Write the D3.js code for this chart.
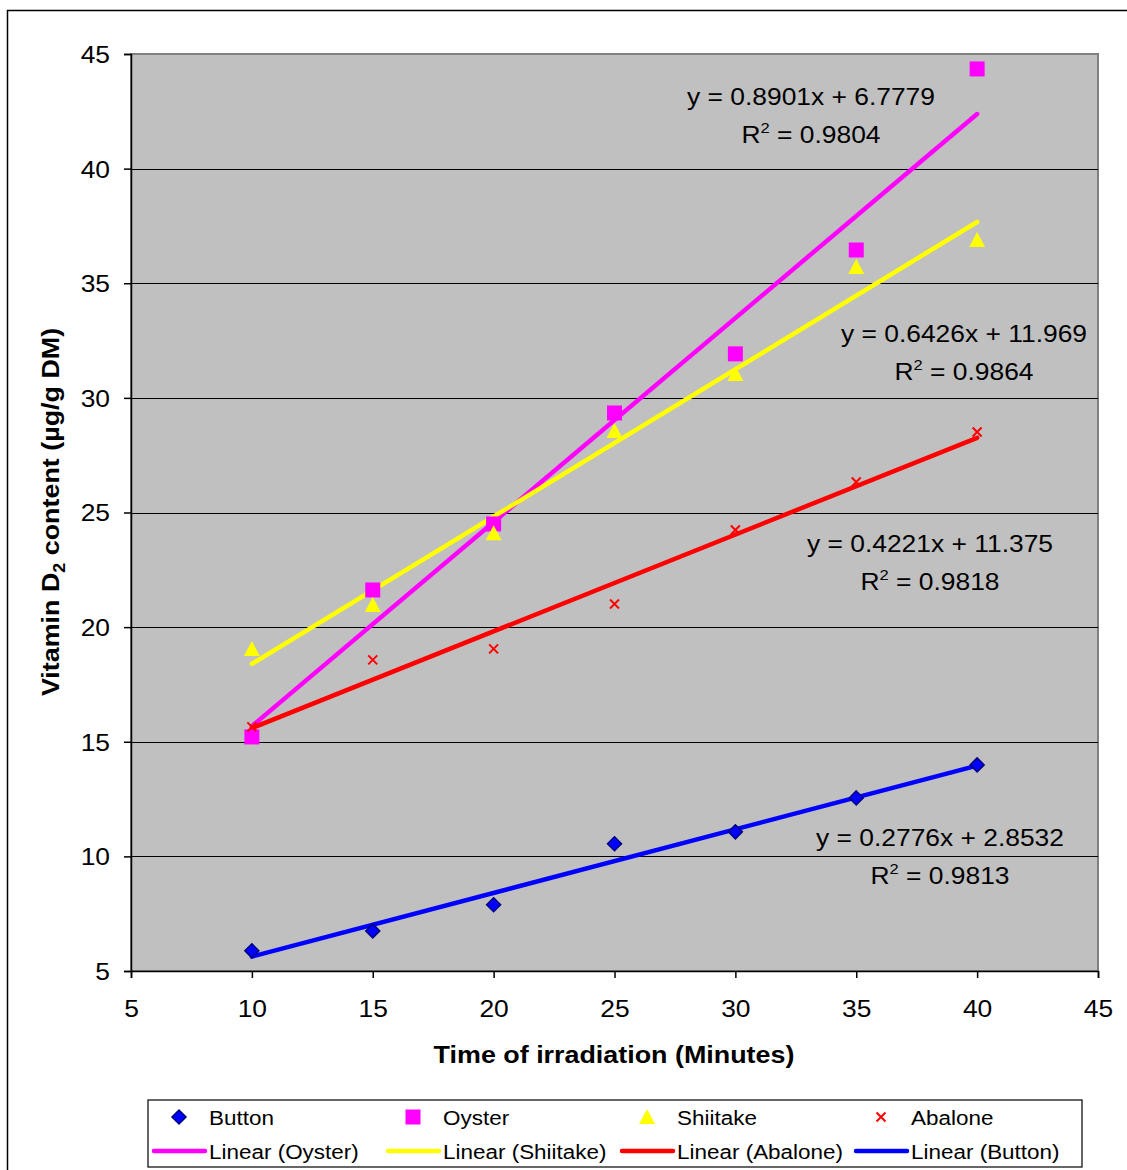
<!DOCTYPE html>
<html>
<head>
<meta charset="utf-8">
<script src="https://cdn.jsdelivr.net/npm/d3@7"></script>
<style>
  html, body { margin: 0; padding: 0; background: #fff; }
  svg { display: block; font-family: "Liberation Sans", Arial, sans-serif; }
</style>
</head>
<body>
<svg id="chart" width="1127" height="1170"></svg>
<script>
// Irradiation time (minutes)
const times = [10, 15, 20, 25, 30, 35, 40];

// Vitamin D2 content (µg/g DM) for each mushroom
const button   = [5.88, 6.75, 7.89, 10.55, 11.07, 12.55, 13.99];
const oyster   = [15.21, 21.62, 24.5, 29.34, 31.92, 36.45, 44.35];
const shiitake = [19.05, 20.97, 24.1, 28.56, 31.04, 35.71, 36.89];
const abalone  = [15.65, 18.57, 19.05, 21.01, 24.24, 26.33, 28.51];

// Linear fits: [slope, intercept, R²]
const fitOyster   = [0.8901, 6.7779, 0.9804];
const fitShiitake = [0.6426, 11.969, 0.9864];
const fitAbalone  = [0.4221, 11.375, 0.9818];
const fitButton   = [0.2776, 2.8532, 0.9813];

const xTicks = [5, 10, 15, 20, 25, 30, 35, 40, 45];
const yTicks = [5, 10, 15, 20, 25, 30, 35, 40, 45];

const series = [
  { name: "Button",   values: button,   color: "#0000FF", symbol: "diamond" },
  { name: "Oyster",   values: oyster,   color: "#FF00FF", symbol: "square" },
  { name: "Shiitake", values: shiitake, color: "#FFFF00", symbol: "triangle" },
  { name: "Abalone",  values: abalone,  color: "#FF0000", symbol: "cross" }
];
const trends = [
  { name: "Linear (Oyster)",   fit: fitOyster,   color: "#FF00FF", label: [811, 97] },
  { name: "Linear (Shiitake)", fit: fitShiitake, color: "#FFFF00", label: [964, 334] },
  { name: "Linear (Abalone)",  fit: fitAbalone,  color: "#FF0000", label: [930, 544] },
  { name: "Linear (Button)",   fit: fitButton,   color: "#0000FF", label: [940, 838] }
];

const svg = d3.select("#chart");
const L = 131, T = 54, R = 1098, B = 971;
const SX = 1.1; // horizontal text stretch

const x = d3.scaleLinear().domain([5, 45]).range([L, R]);
const y = d3.scaleLinear().domain([5, 45]).range([B, T]);

// widen a text element horizontally around its anchor point
function stretch(sel, sx) {
  sel.each(function () {
    const t = d3.select(this);
    const ax = +t.attr("x") || 0, ay = +t.attr("y") || 0;
    t.attr("transform", `translate(${ax},${ay}) scale(${sx},1) translate(${-ax},${-ay})`);
  });
}

// outer chart frame
svg.append("rect").attr("x", 7.5).attr("y", 10.5).attr("width", 1140).attr("height", 1180)
  .attr("fill", "#fff").attr("stroke", "#000").attr("stroke-width", 1.5);

// plot area
svg.append("rect").attr("x", L).attr("y", T).attr("width", R - L).attr("height", B - T)
  .attr("fill", "#C0C0C0").attr("stroke", "#808080").attr("stroke-width", 2);

// horizontal gridlines
svg.append("g").selectAll("line").data(yTicks.filter(d => d > 5 && d < 45)).join("line")
  .attr("x1", L).attr("x2", R).attr("y1", d => Math.round(y(d)) + 0.5).attr("y2", d => Math.round(y(d)) + 0.5)
  .attr("stroke", "#000").attr("stroke-width", 1);

// axes
const yAxis = svg.append("g").attr("transform", `translate(${L},0)`)
  .call(d3.axisLeft(y).tickValues(yTicks).tickSize(7).tickPadding(14));
const xAxis = svg.append("g").attr("transform", `translate(0,${B})`)
  .call(d3.axisBottom(x).tickValues(xTicks).tickSize(7).tickPadding(27));
[yAxis, xAxis].forEach(g => {
  g.select(".domain").attr("stroke", "#000").attr("stroke-width", 1.5);
  g.selectAll(".tick line").attr("stroke", "#000").attr("stroke-width", 1.5);
  g.selectAll(".tick text").attr("font-size", 24).attr("fill", "#000")
    .style("font-family", "'Liberation Sans', Arial, sans-serif");
});
yAxis.selectAll(".tick text").attr("dy", "0.35em").call(stretch, SX);
xAxis.selectAll(".tick text").attr("dy", "0.5em").call(stretch, SX);

// axis titles
svg.append("text").attr("x", 614).attr("y", 1063).attr("text-anchor", "middle")
  .attr("font-size", 24).attr("font-weight", "bold").text("Time of irradiation (Minutes)")
  .call(stretch, 1.12);

const yt = svg.append("text").attr("transform", `translate(59,512) rotate(-90) scale(1.12,1)`)
  .attr("text-anchor", "middle").attr("font-size", 24).attr("font-weight", "bold");
yt.append("tspan").text("Vitamin D");
yt.append("tspan").attr("font-size", 16).attr("dy", 6).text("2");
yt.append("tspan").attr("dy", -6).text(" content (µg/g DM)");

// trend lines
trends.forEach(t => {
  const [m, c] = t.fit;
  svg.append("line")
    .attr("x1", x(10)).attr("y1", y(m * 10 + c))
    .attr("x2", x(40)).attr("y2", y(m * 40 + c))
    .attr("stroke", t.color).attr("stroke-width", 4.5).attr("stroke-linecap", "round");
});

// marker drawing
function drawMarker(g, symbol, color, cx, cy) {
  if (symbol === "diamond") {
    g.append("path").attr("d", `M${cx},${cy - 7}L${cx + 7},${cy}L${cx},${cy + 7}L${cx - 7},${cy}Z`)
      .attr("fill", "#0000FF").attr("stroke", "#000080").attr("stroke-width", 1.5);
  } else if (symbol === "square") {
    g.append("rect").attr("x", cx - 7.5).attr("y", cy - 7.5).attr("width", 15).attr("height", 15)
      .attr("fill", color);
  } else if (symbol === "triangle") {
    g.append("path").attr("d", `M${cx},${cy - 8}L${cx + 8},${cy + 7}L${cx - 8},${cy + 7}Z`)
      .attr("fill", color);
  } else if (symbol === "cross") {
    g.append("path").attr("d", `M${cx - 4.5},${cy - 4.5}L${cx + 4.5},${cy + 4.5}M${cx + 4.5},${cy - 4.5}L${cx - 4.5},${cy + 4.5}`)
      .attr("stroke", color).attr("stroke-width", 2);
  }
}

// data points
series.forEach(s => {
  const g = svg.append("g");
  s.values.forEach((v, i) => drawMarker(g, s.symbol, s.color, x(times[i]), y(v)));
});

// equation labels
trends.forEach(t => {
  const [m, c, r2] = t.fit;
  const [lx, ly] = t.label;
  svg.append("text").attr("x", lx).attr("y", ly + 8).attr("text-anchor", "middle")
    .attr("font-size", 24).attr("fill", "#000")
    .text(`y = ${m}x + ${c}`).call(stretch, SX);
  const r = svg.append("text").attr("x", lx).attr("y", ly + 46).attr("text-anchor", "middle")
    .attr("font-size", 24).attr("fill", "#000");
  r.append("tspan").text("R");
  r.append("tspan").attr("font-size", 15).attr("dy", -10).text("2");
  r.append("tspan").attr("dy", 10).text(" = " + r2.toFixed(4));
  r.call(stretch, SX);
});

// legend
const lg = svg.append("g");
lg.append("rect").attr("x", 148).attr("y", 1100).attr("width", 934).attr("height", 67)
  .attr("fill", "#fff").attr("stroke", "#000").attr("stroke-width", 1.2);
const colX = [150, 384, 618, 852];
series.forEach((s, i) => {
  drawMarker(lg, s.symbol, s.color, colX[i] + 29, 1117);
  lg.append("text").attr("x", colX[i] + 59).attr("y", 1125).attr("font-size", 21)
    .text(s.name).call(stretch, 1.07);
});
trends.forEach((t, i) => {
  lg.append("line").attr("x1", colX[i] + 4).attr("x2", colX[i] + 55).attr("y1", 1151).attr("y2", 1151)
    .attr("stroke", t.color).attr("stroke-width", 4.5).attr("stroke-linecap", "round");
  lg.append("text").attr("x", colX[i] + 59).attr("y", 1159).attr("font-size", 21)
    .text(t.name).call(stretch, 1.07);
});
</script>
</body>
</html>
